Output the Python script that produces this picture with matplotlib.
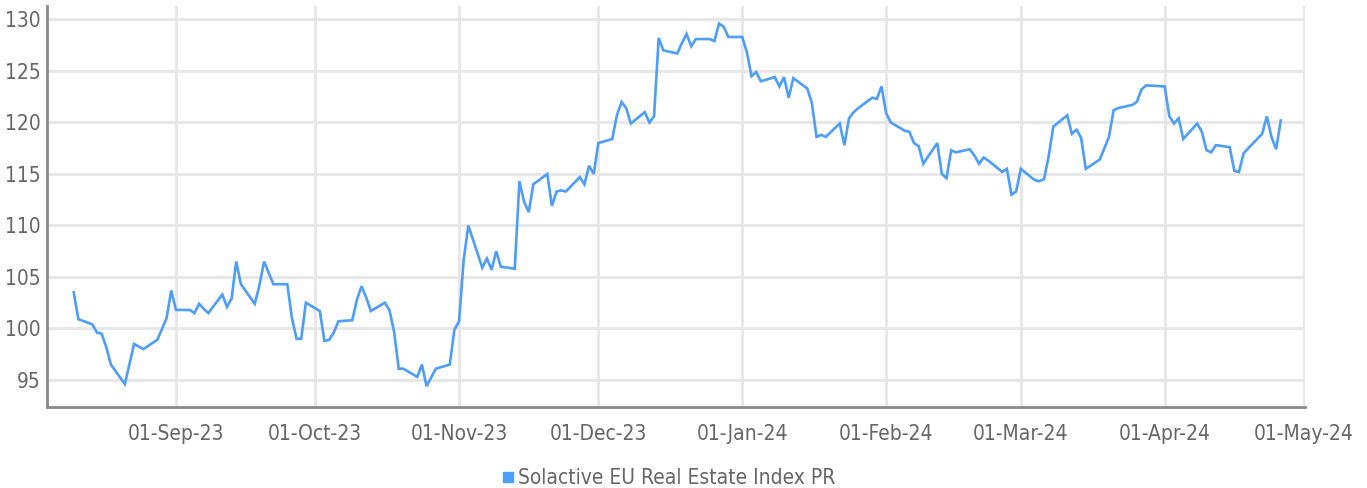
import matplotlib
matplotlib.use("Agg")
import matplotlib.pyplot as plt
import matplotlib.dates as mdates
from matplotlib import font_manager as fm
from matplotlib.lines import Line2D
import pandas as pd

# pick a narrow sans face for all labels when one is available
_narrow = [f for f in fm.fontManager.ttflist
           if (f.stretch in ("condensed", "semi-condensed") or "Narrow" in f.name or "Condensed" in f.name)
           and f.style == "normal" and f.weight in (400, "normal", "regular")]
if _narrow:
    plt.rcParams['font.family'] = [_narrow[0].name, 'DejaVu Sans']
    plt.rcParams['font.stretch'] = _narrow[0].stretch
else:
    plt.rcParams['font.family'] = ['Roboto', 'DejaVu Sans']

series_name = "Solactive EU Real Estate Index PR"

dates = [
    "2023-08-10", "2023-08-11", "2023-08-14", "2023-08-15", "2023-08-16", "2023-08-17", "2023-08-18",
    "2023-08-21", "2023-08-23", "2023-08-25", "2023-08-28", "2023-08-30", "2023-08-31",
    "2023-09-01", "2023-09-04", "2023-09-05", "2023-09-06", "2023-09-07", "2023-09-08",
    "2023-09-11", "2023-09-12", "2023-09-13", "2023-09-14", "2023-09-15",
    "2023-09-18", "2023-09-19", "2023-09-20", "2023-09-22",
    "2023-09-25", "2023-09-26", "2023-09-27", "2023-09-28", "2023-09-29",
    "2023-10-02", "2023-10-03", "2023-10-04", "2023-10-05", "2023-10-06",
    "2023-10-09", "2023-10-10", "2023-10-11", "2023-10-12", "2023-10-13",
    "2023-10-16", "2023-10-17", "2023-10-18", "2023-10-19", "2023-10-20",
    "2023-10-23", "2023-10-24", "2023-10-25", "2023-10-27",
    "2023-10-30", "2023-10-31", "2023-11-01", "2023-11-02", "2023-11-03",
    "2023-11-06", "2023-11-07", "2023-11-08", "2023-11-09", "2023-11-10",
    "2023-11-13", "2023-11-14", "2023-11-15", "2023-11-16", "2023-11-17",
    "2023-11-20", "2023-11-21", "2023-11-22", "2023-11-23", "2023-11-24",
    "2023-11-27", "2023-11-28", "2023-11-29", "2023-11-30", "2023-12-01",
    "2023-12-04", "2023-12-05", "2023-12-06", "2023-12-07", "2023-12-08",
    "2023-12-11", "2023-12-12", "2023-12-13", "2023-12-14", "2023-12-15",
    "2023-12-18", "2023-12-19", "2023-12-20", "2023-12-21", "2023-12-22",
    "2023-12-25", "2023-12-26", "2023-12-27", "2023-12-28", "2023-12-29",
    "2024-01-01", "2024-01-02", "2024-01-03", "2024-01-04", "2024-01-05",
    "2024-01-08", "2024-01-09", "2024-01-10", "2024-01-11", "2024-01-12",
    "2024-01-15", "2024-01-16", "2024-01-17", "2024-01-18", "2024-01-19",
    "2024-01-22", "2024-01-23", "2024-01-24", "2024-01-25", "2024-01-26",
    "2024-01-29", "2024-01-30", "2024-01-31", "2024-02-01", "2024-02-02",
    "2024-02-05", "2024-02-06", "2024-02-07", "2024-02-08", "2024-02-09",
    "2024-02-12", "2024-02-13", "2024-02-14", "2024-02-15", "2024-02-16",
    "2024-02-19", "2024-02-20", "2024-02-21", "2024-02-22", "2024-02-23",
    "2024-02-26", "2024-02-27", "2024-02-28", "2024-02-29", "2024-03-01",
    "2024-03-04", "2024-03-05", "2024-03-06", "2024-03-07", "2024-03-08",
    "2024-03-11", "2024-03-12", "2024-03-13", "2024-03-14", "2024-03-15",
    "2024-03-18", "2024-03-19", "2024-03-20", "2024-03-21", "2024-03-22",
    "2024-03-25", "2024-03-26", "2024-03-27", "2024-03-28",
    "2024-04-01", "2024-04-02", "2024-04-03", "2024-04-04", "2024-04-05",
    "2024-04-08", "2024-04-09", "2024-04-10", "2024-04-11", "2024-04-12",
    "2024-04-15", "2024-04-16", "2024-04-17", "2024-04-18", "2024-04-19",
    "2024-04-22", "2024-04-23", "2024-04-24", "2024-04-25", "2024-04-26",
]

index_values = [
    103.5, 100.9, 100.4, 99.6, 99.5, 98.2, 96.5,
    94.6, 98.5, 98.0, 98.9, 101.0, 103.7,
    101.8, 101.8, 101.5, 102.4, 101.9, 101.5,
    103.3, 102.1, 102.9, 106.5, 104.3,
    102.4, 104.2, 106.5, 104.3,
    104.3, 101.0, 99.0, 99.0, 102.5,
    101.7, 98.8, 98.9, 99.6, 100.7,
    100.8, 102.8, 104.1, 103.0, 101.7,
    102.5, 101.8, 99.7, 96.1, 96.1,
    95.3, 96.5, 94.4, 96.1,
    96.5, 99.9, 100.7, 106.7, 110.0,
    105.9, 106.8, 105.7, 107.5, 106.0,
    105.8, 114.3, 112.3, 111.3, 114.0,
    115.0, 111.9, 113.3, 113.4, 113.3,
    114.7, 114.0, 115.8, 115.0, 118.0,
    118.4, 120.7, 122.0, 121.4, 119.9,
    121.0, 120.0, 120.6, 128.2, 127.0,
    126.7, 127.7, 128.6, 127.4, 128.1,
    128.1, 127.9, 129.6, 129.3, 128.3,
    128.3, 126.8, 124.5, 124.9, 124.0,
    124.4, 123.5, 124.4, 122.4, 124.3,
    123.3, 121.9, 118.6, 118.8, 118.6,
    119.9, 117.8, 120.4, 121.0, 121.4,
    122.4, 122.3, 123.5, 120.9, 120.0,
    119.2, 119.1, 118.0, 117.7, 116.0,
    118.0, 115.0, 114.6, 117.3, 117.1,
    117.4, 116.8, 116.0, 116.6, 116.3,
    115.2, 115.5, 113.0, 113.3, 115.5,
    114.4, 114.3, 114.5, 116.7, 119.6,
    120.7, 118.9, 119.3, 118.5, 115.5,
    116.4, 117.5, 118.6, 121.2, 121.4,
    121.7, 122.0, 123.2, 123.6,
    123.5, 120.6, 119.9, 120.4, 118.4,
    119.9, 119.1, 117.3, 117.1, 117.8,
    117.6, 115.3, 115.2, 117.0, 117.5,
    118.9, 120.6, 118.6, 117.4, 120.2,
]

y_ticks = [95, 100, 105, 110, 115, 120, 125, 130]
x_ticks = ["2023-09-01", "2023-10-01", "2023-11-01", "2023-12-01", "2024-01-01",
           "2024-02-01", "2024-03-01", "2024-04-01", "2024-05-01"]

LINE_COLOR = "#4d9dfb"
GRID_COLOR = "#e6e6e6"
TEXT_COLOR = "#666666"
SPINE_COLOR = "#8a8a8a"
LABEL_SIZE = 15 if _narrow else 13.5

x = pd.to_datetime(dates)

fig = plt.figure(figsize=(13.67, 4.88), dpi=100)
ax = fig.add_axes([0.0347, 0.166, 0.9199, 0.8207])

ax.plot(x, index_values, color=LINE_COLOR, lw=1.9, solid_joinstyle="miter", zorder=3)

ax.set_xlim(mdates.date2num(pd.Timestamp("2023-08-04 08:00")),
            mdates.date2num(pd.Timestamp("2024-05-01 05:00")))
ax.set_ylim(92.38, 131.26)

ax.set_yticks(y_ticks)
ax.set_xticks(pd.to_datetime(x_ticks))
ax.xaxis.set_major_formatter(mdates.DateFormatter("%d-%b-%y"))

ax.grid(True, color=GRID_COLOR, lw=2, zorder=0)
ax.tick_params(axis="both", length=0, colors=TEXT_COLOR, labelsize=LABEL_SIZE)
ax.tick_params(axis="x", pad=12)
ax.tick_params(axis="y", pad=5)

for side in ("top", "right"):
    ax.spines[side].set_visible(False)
for side in ("left", "bottom"):
    ax.spines[side].set_color(SPINE_COLOR)
    ax.spines[side].set_linewidth(2)

handle = Line2D([], [], color=LINE_COLOR, marker="s", linestyle="none", markersize=6.5)
fig.legend([handle], [series_name], loc="center", bbox_to_anchor=(0.4885, 0.02),
           frameon=False, fontsize=LABEL_SIZE, labelcolor=TEXT_COLOR,
           handletextpad=0.1, handlelength=0.8, borderaxespad=0)

fig.savefig("out.png", dpi=100)
